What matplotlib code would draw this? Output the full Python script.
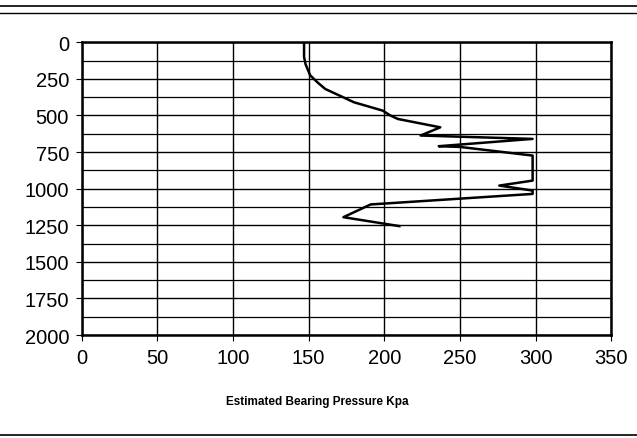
import matplotlib
matplotlib.use("Agg")
import matplotlib.pyplot as plt
import numpy as np

plt.rcParams['font.family'] = ['Liberation Sans', 'DejaVu Sans']

# estimated bearing pressure (kPa) vs depth
pressure = [147, 147, 148, 151, 156, 161, 170, 180, 199, 204, 209, 237, 224,
            298, 236, 250, 298, 298, 276, 298, 298, 191, 173, 210]
depth = [0, 100, 150, 225, 275, 319, 362, 410, 467, 500, 524, 581, 637,
         660, 710, 715, 774, 945, 979, 1013, 1036, 1108, 1195, 1256]

x_ticks = [0, 50, 100, 150, 200, 250, 300, 350]
y_ticks = [0, 250, 500, 750, 1000, 1250, 1500, 1750, 2000]

fig = plt.figure(figsize=(6.37, 4.39), dpi=100)
ax = fig.add_axes([0.128, 0.2346, 0.8317, 0.6668])

ax.plot(pressure, depth, color='black', lw=1.8, zorder=3)

ax.set_xlim(0, 350)
ax.set_ylim(2000, 0)
ax.set_xticks(x_ticks)
ax.set_yticks(y_ticks)
ax.set_yticks(np.arange(125, 2000, 250), minor=True)
ax.grid(True, which='major', color='black', lw=1.0)
ax.grid(True, which='minor', axis='y', color='black', lw=0.9)
ax.tick_params(which='minor', length=0)
ax.tick_params(which='major', length=4, width=0.8, labelsize=14.5, pad=5)

for s in ax.spines.values():
    s.set_linewidth(1.8)

ax.set_xlabel('Estimated Bearing Pressure Kpa', fontsize=8.5, fontweight='bold')
ax.xaxis.set_label_coords(0.445, -0.205)

# scan frame lines
fig.add_artist(plt.Line2D([0, 1], [1 - 7 / 439, 1 - 7 / 439], color='black', lw=1.2))
fig.add_artist(plt.Line2D([0, 1], [1 - 14 / 439, 1 - 14 / 439], color='black', lw=1.0))
fig.add_artist(plt.Line2D([0, 1], [3 / 439, 3 / 439], color='black', lw=1.2))

fig.savefig('out.png', dpi=100)
